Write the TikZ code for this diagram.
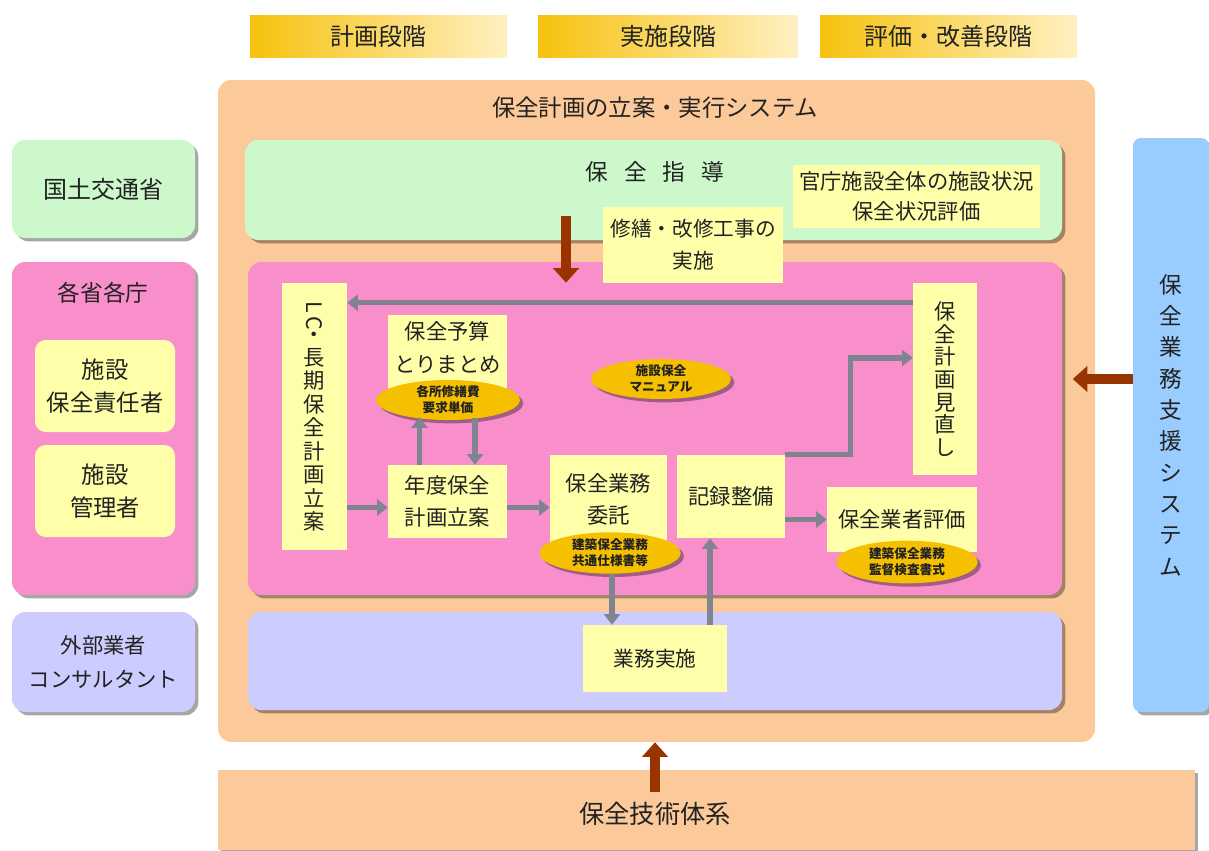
\documentclass[tikz,border=0pt]{standalone}
\usepackage{fontspec}
\setmainfont{Noto Sans CJK JP}
\usetikzlibrary{arrows.meta,shadows,calc,shapes.geometric}
\definecolor{peach}{HTML}{FCCA9A}
\definecolor{mint}{HTML}{CCF8CC}
\definecolor{pinkp}{HTML}{F98FCA}
\definecolor{lav}{HTML}{CCCCFF}
\definecolor{ylw}{HTML}{FFFFAA}
\definecolor{skyb}{HTML}{99CCFF}
\definecolor{brn}{HTML}{993300}
\definecolor{garr}{HTML}{7F8490}
\definecolor{goldA}{HTML}{F6C20E}
\definecolor{goldB}{HTML}{FFF0C2}
\definecolor{goldE}{HTML}{F5C000}
\definecolor{txt}{HTML}{222222}
\newcommand\fz[2]{\fontsize{#1}{#2}\selectfont}
\begin{document}
\begin{tikzpicture}[x=0.75pt,y=-0.75pt,
  every node/.style={text=txt},
  area/.style n args={4}{rectangle, inner sep=0pt, minimum width={(#3-#1)*0.75pt}, minimum height={(#4-#2)*0.75pt}, at={({(#1+#3)/2},{(#2+#4)/2})}},
  hdr/.style={left color=goldA, right color=goldB, font=\fz{18}{22}},
  panel/.style={rounded corners=10pt},
  shad/.style={drop shadow={shadow xshift=2.5pt, shadow yshift=-2.5pt, fill=black, opacity=0.35}},
  ybox/.style={fill=ylw, align=center, font=\fz{16}{24}},
  lbox/.style={fill=ylw, align=center, rounded corners=8pt, font=\fz{17.5}{25}},
  ell/.style={ellipse, fill=goldE, inner sep=0pt, align=center, font=\fz{9.5}{12}\bfseries, shad},
  garrow/.style={draw=garr, line width=3.8pt, -{Triangle[width=12pt,length=8pt]}},
  barrow/.style={draw=brn, line width=8pt, -{Triangle[width=19pt,length=11pt]}},
]
\useasboundingbox (0,0) rectangle (1209,850);
\fill[white] (0,0) rectangle (1209,850);

% headers
\node[hdr, area={250}{15}{507}{57}] (h1) {計画段階};
\node[hdr, area={538}{15}{798}{57}] (h2) {実施段階};
\node[hdr, area={820}{15}{1077}{57}] (h3) {評価・改善段階};

% left column
\node[panel, fill=mint, shad, area={12}{140}{195}{238}, font=\fz{18}{22}] (mlit) {国土交通省};
\node[panel, fill=pinkp, shad, area={12}{262}{195}{595}] (kaku) {};
\node[font=\fz{17}{22}] (kakut) at (103,293) {各省各庁};
\node[lbox, area={35}{340}{175}{432}] (sekinin) {施設\\保全責任者};
\node[lbox, area={35}{445}{175}{537}] (kanri) {施設\\管理者};
\node[panel, fill=lav, shad, area={12}{612}{195}{712}, align=center, font=\fz{16}{25}] (gaibu) {外部業者\\コンサルタント};

% right column
\node[panel, rounded corners=6pt, fill=skyb, shad, area={1133}{138}{1209}{712}, align=center, font=\fz{17}{23.5}] (shien) {保\\全\\業\\務\\支\\援\\シ\\ス\\テ\\ム};

% bottom bar
\node[fill=peach, shad, area={218}{770}{1195}{850}] (gijutsu) {};
\node[font=\fz{19}{22}] (gijutsut) at (655,814) {保全技術体系};

% main system
\node[panel, fill=peach, area={218}{80}{1095}{742}] (sys) {};
\node[font=\fz{17.5}{22}] (systitle) at (655,108) {保全計画の立案・実行システム};
\node[panel, fill=mint, shad, area={245}{140}{1062}{240}] (shido) {};
\node[font=\fz{17}{22}] (shidot) at (655,172) {保\hspace{0.7em}全\hspace{0.7em}指\hspace{0.7em}導};
\node[ybox, area={793}{165}{1040}{228}, font=\fz{16}{22}] (kancho) {官庁施設全体の施設状況\\保全状況評価};
\node[panel, fill=pinkp, shad, area={248}{262}{1062}{595}] (pinkpanel) {};
\node[panel, fill=lav, shad, area={248}{612}{1062}{710}] (lavpanel) {};
\node[ybox, area={603}{207}{783}{283}, font=\fz{15.5}{24}] (shuzen) {修繕・改修工事の\\実施};

% inner boxes
\node[ybox, area={282}{283}{347}{550}, font=\fz{16}{17.6}] (lc) {\rotatebox{-90}{L\,C}\\・\\長\\期\\保\\全\\計\\画\\立\\案};
\node[ybox, area={388}{315}{507}{392}, font=\fz{16}{25}] (yosan) {保全予算\\とりまとめ\\[-15pt]};
\node[ybox, area={388}{465}{507}{538}] (nendo) {年度保全\\計画立案};
\node[ybox, area={550}{455}{667}{548}] (itaku) {保全業務\\委託\\[-19pt]};
\node[ybox, area={677}{455}{785}{538}, font=\fz{16}{22}] (kiroku) {記録整備};
\node[ybox, area={913}{283}{977}{475}, font=\fz{16}{17}] (minaoshi) {保\\全\\計\\画\\見\\直\\し};
\node[ybox, area={827}{487}{977}{552}, font=\fz{16}{22}] (hyouka) {保全業者評価};
\node[ybox, area={583}{625}{727}{692}, font=\fz{15.5}{22}] (jisshi) {業務実施};

% ellipses
\node[ell, minimum width=108pt, minimum height=30pt] (el1) at (448,400) {各所修繕費\\要求単価};
\node[ell, minimum width=105pt, minimum height=30pt] (el2) at (661,379) {施設保全\\マニュアル};
\node[ell, minimum width=106pt, minimum height=31pt] (el3) at (610,553) {建築保全業務\\共通仕様書等};
\node[ell, minimum width=106pt, minimum height=32pt] (el4) at (907,562) {建築保全業務\\監督検査書式};

% gray arrows
\draw[garrow] ($(minaoshi.north west)+(0,20)$) coordinate (ta) -- (ta -| lc.east);
\draw[garrow] ($(lc.east |- nendo.east)+(0,6)$) coordinate (tb) -- (tb -| nendo.west);
\draw[garrow] ($(nendo.east)+(0,6)$) coordinate (tc) -- (tc -| itaku.west);
\draw[garrow] ($(nendo.north)+(-28,0)$) coordinate (td) -- ($(td |- el1.south)+(0,-3)$);
\draw[garrow] ($(el1.south)+(27,-2)$) coordinate (te) -- (te |- nendo.north);
\draw[garrow] ($(el3.south)+(2,0)$) coordinate (tf) -- (tf |- jisshi.north);
\draw[garrow] ($(jisshi.north)+(55,0)$) coordinate (tg) -- (tg |- kiroku.south);
\draw[garrow] (kiroku.north east) -- ++(65,0) |- ($(minaoshi.west)+(0,-21)$);
\draw[garrow] (kiroku.east |- hyouka.west) -- (hyouka.west);

% brown arrows
\coordinate (ba) at (566,216);
\draw[barrow] (ba) -- (ba |- lc.north);
\draw[barrow] (shien.west |- minaoshi.east) -- ++(-60,0);
\coordinate (bc) at (655,792);
\draw[barrow] (bc) -- (bc |- sys.south);
\end{tikzpicture}
\end{document}
